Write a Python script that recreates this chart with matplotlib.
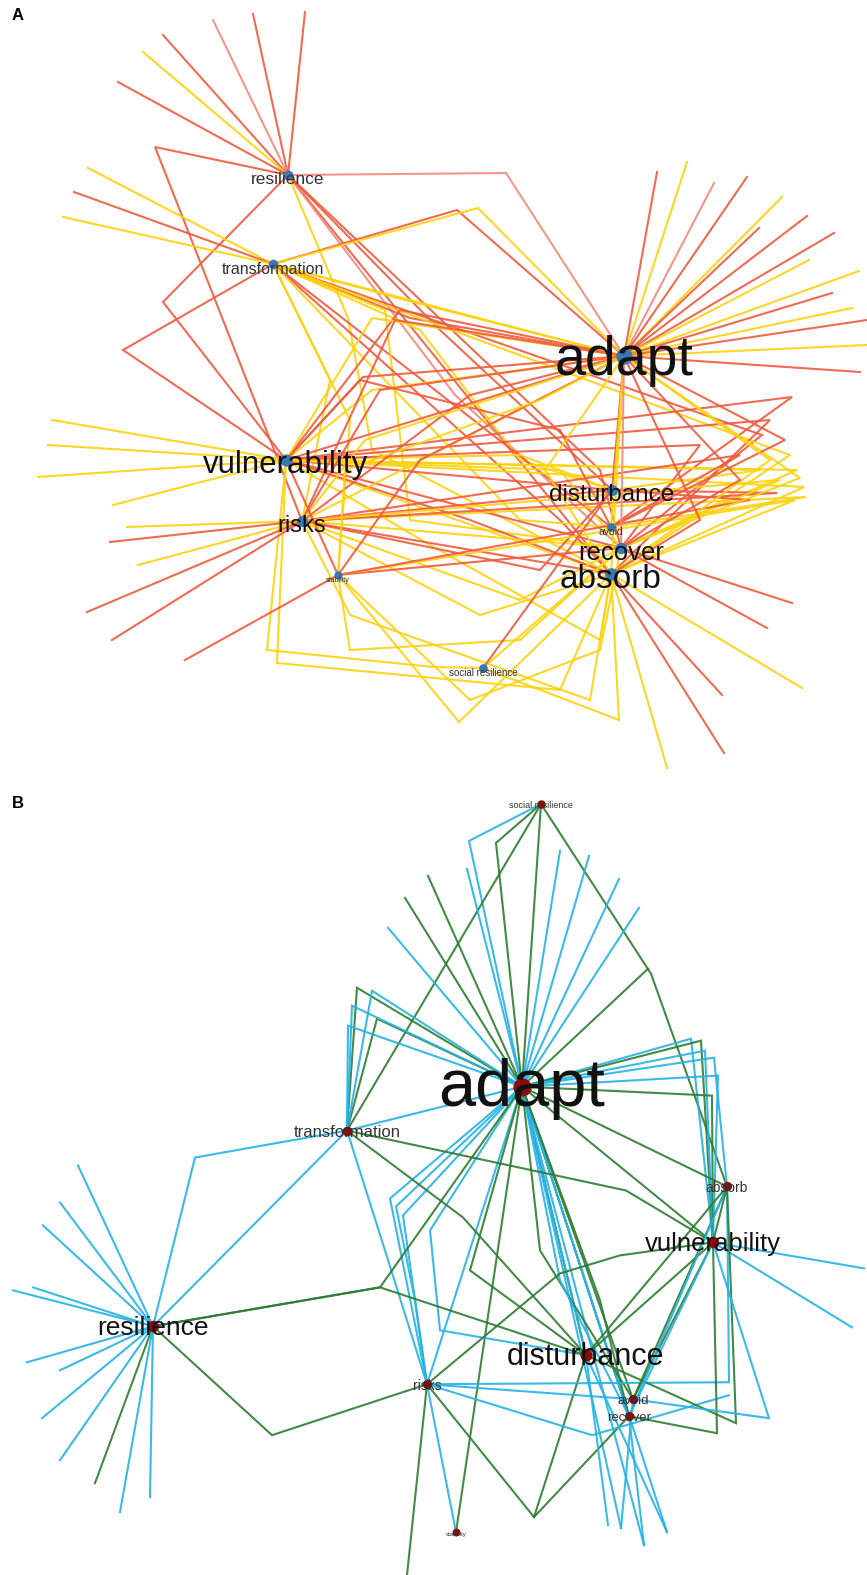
import matplotlib.pyplot as plt

# ---------------- panel A : keyword network (red / yellow links) ----------------
a_names  = ['resilience', 'transformation', 'adapt', 'vulnerability', 'risks', 'stability',
            'disturbance', 'avoid', 'recover', 'absorb', 'social resilience']
a_x      = [288, 273, 624, 286, 302, 338, 612, 611, 621, 611, 483]
a_y      = [175, 264, 356, 460, 521, 575, 490, 527, 548, 574, 668]
a_weight = [12.5, 11.5, 40, 22.5, 17, 5, 17.5, 7.5, 18.5, 24, 7]

a_edges = [
    # resilience
    ('r', ['resilience', (305, 12)]), ('r', ['resilience', (253, 14)]),
    ('p', ['resilience', (213, 20)]), ('r', ['resilience', (163, 35)]),
    ('y', ['resilience', (143, 52)]), ('r', ['resilience', (118, 82)]),
    ('p', ['resilience', (506, 173), 'adapt']),
    ('r', ['resilience', (155, 147), 'risks']),
    ('r', ['resilience', (163, 302), 'vulnerability']),
    ('r', ['resilience', 'absorb']),
    ('p', ['resilience', (455, 395), 'recover']),
    ('y', ['resilience', (348, 318), (372, 450), 'absorb']),
    ('r', ['resilience', (440, 330), 'disturbance']),
    ('r', ['resilience', (600, 470), 'recover']),
    # transformation
    ('y', ['transformation', (88, 168)]), ('r', ['transformation', (74, 192)]),
    ('y', ['transformation', (63, 217)]),
    ('r', ['transformation', (123, 350), 'vulnerability']),
    ('r', ['transformation', (457, 210), 'adapt']),
    ('y', ['transformation', (478, 208), 'adapt']),
    ('y', ['transformation', (440, 308), 'adapt']),
    ('y', ['transformation', (405, 300), 'adapt']),
    ('r', ['transformation', (410, 318), 'adapt']),
    ('y', ['transformation', (420, 330), (520, 460), 'disturbance']),
    ('r', ['transformation', 'avoid']),
    ('y', ['transformation', (385, 310), (410, 520), 'recover']),
    ('r', ['transformation', (762, 435), 'recover']),
    ('y', ['transformation', (790, 455), 'absorb']),
    ('y', ['transformation', (330, 380), 'risks']),
    ('r', ['transformation', (560, 520), 'absorb']),
    ('y', ['transformation', (520, 520), 'avoid']),
    ('y', ['transformation', (350, 420), 'stability']),
    # vulnerability
    ('y', ['vulnerability', (52, 420)]), ('y', ['vulnerability', (48, 445)]),
    ('y', ['vulnerability', (38, 477)]), ('y', ['vulnerability', (113, 505)]),
    ('r', ['vulnerability', 'adapt']),
    ('r', ['vulnerability', (363, 377), 'adapt']),
    ('y', ['vulnerability', (372, 390), 'adapt']),
    ('r', ['vulnerability', (400, 310), 'adapt']),
    ('y', ['vulnerability', (372, 318), 'adapt']),
    ('y', ['vulnerability', (520, 455), 'disturbance']),
    ('r', ['vulnerability', 'disturbance']),
    ('r', ['vulnerability', 'recover']),
    ('y', ['vulnerability', 'absorb']),
    ('r', ['vulnerability', (792, 397), 'avoid']),
    ('y', ['vulnerability', (797, 470), 'recover']),
    ('y', ['vulnerability', (804, 487), 'absorb']),
    ('r', ['vulnerability', (770, 420), 'absorb']),
    ('y', ['vulnerability', (267, 650), (433, 667), 'social resilience']),
    ('y', ['vulnerability', (277, 663), (560, 690), 'absorb']),
    ('r', ['vulnerability', (360, 380), (560, 430), 'avoid']),
    ('r', ['vulnerability', (700, 445), 'recover']),
    ('y', ['vulnerability', (760, 470), 'disturbance']),
    ('y', ['vulnerability', (560, 470), 'recover']),
    ('r', ['vulnerability', (470, 520), 'absorb']),
    ('y', ['vulnerability', (430, 545), (600, 640), 'absorb']),
    # risks
    ('y', ['risks', (127, 527)]), ('r', ['risks', (110, 542)]),
    ('y', ['risks', (138, 565)]), ('r', ['risks', (87, 612)]),
    ('r', ['risks', (112, 640)]),
    ('r', ['risks', (395, 320), 'adapt']),
    ('y', ['risks', 'adapt']),
    ('r', ['risks', (470, 395), 'adapt']),
    ('r', ['risks', (380, 390), 'adapt']),
    ('y', ['risks', (365, 440), 'adapt']),
    ('r', ['risks', 'disturbance']),
    ('y', ['risks', 'recover']),
    ('r', ['risks', 'absorb']),
    ('y', ['risks', (480, 615), 'absorb']),
    ('y', ['risks', (806, 497), 'avoid']),
    ('r', ['risks', (777, 493), 'disturbance']),
    ('r', ['risks', (740, 455), 'avoid']),
    ('y', ['risks', (780, 480), 'recover']),
    ('r', ['risks', (540, 570), 'disturbance']),
    ('y', ['risks', (520, 600), 'recover']),
    ('y', ['risks', (350, 615), (590, 700), 'absorb']),
    # stability
    ('r', ['stability', (185, 660)]),
    ('r', ['stability', 'recover']),
    ('y', ['stability', (459, 722), 'absorb']),
    ('y', ['stability', (470, 700), (600, 650), 'recover']),
    ('r', ['stability', 'vulnerability']),
    ('r', ['stability', (420, 460), 'adapt']),
    ('y', ['stability', (345, 470), (540, 400), 'adapt']),
    ('y', ['stability', (795, 500), 'absorb']),
    ('r', ['stability', (750, 500), 'disturbance']),
    ('y', ['stability', (350, 650), (520, 640), 'recover']),
    # adapt
    ('r', ['adapt', (657, 172)]), ('y', ['adapt', (687, 162)]),
    ('p', ['adapt', (714, 183)]), ('r', ['adapt', (747, 177)]),
    ('y', ['adapt', (782, 197)]), ('r', ['adapt', (759, 228)]),
    ('r', ['adapt', (807, 216)]), ('r', ['adapt', (834, 233)]),
    ('y', ['adapt', (809, 260)]), ('y', ['adapt', (859, 271)]),
    ('r', ['adapt', (832, 293)]), ('y', ['adapt', (852, 308)]),
    ('r', ['adapt', (867, 320)]), ('y', ['adapt', (867, 345)]),
    ('r', ['adapt', (860, 372)]),
    ('y', ['adapt', (800, 478), 'recover']),
    ('r', ['adapt', (785, 440), 'avoid']),
    ('y', ['adapt', (770, 460), 'absorb']),
    ('r', ['adapt', (740, 480), 'recover']),
    ('r', ['adapt', 'disturbance']), ('y', ['adapt', 'avoid']),
    ('y', ['adapt', 'absorb']), ('p', ['adapt', 'recover']),
    ('y', ['adapt', (545, 470), 'absorb']),
    ('r', ['adapt', (700, 520), 'absorb']),
    # lower cluster
    ('y', ['absorb', (667, 768)]), ('r', ['absorb', (724, 753)]),
    ('r', ['absorb', (722, 695)]), ('y', ['absorb', (802, 688)]),
    ('r', ['recover', (767, 628)]), ('r', ['recover', (792, 603)]),
    ('y', ['social resilience', (619, 720), 'absorb']),
    ('y', ['social resilience', 'recover']),
    ('r', ['social resilience', 'disturbance']),
]

# ---------------- panel B : keyword network (blue / green links) ----------------
b_names  = ['social resilience', 'adapt', 'transformation', 'resilience', 'absorb',
            'vulnerability', 'disturbance', 'risks', 'avoid', 'recover', 'stability']
b_x      = [541, 522, 347, 153, 727, 713, 586, 427, 633, 629, 456]
b_y      = [803, 1086, 1130, 1326, 1186, 1242, 1355, 1384, 1399, 1416, 1532]
b_weight = [6.5, 48, 12, 19, 10, 18.5, 22, 10, 9.5, 9.5, 4.5]

b_edges = [
    # social resilience
    ('g', ['social resilience', 'adapt']),
    ('b', ['social resilience', (469, 840), 'adapt']),
    ('g', ['social resilience', (496, 842), 'adapt']),
    ('g', ['social resilience', (651, 973), 'absorb']),
    ('g', ['adapt', (648, 968)]),
    ('g', ['social resilience', 'transformation']),
    # adapt, upper fan
    ('b', ['adapt', (589, 855)]), ('b', ['adapt', (619, 878)]),
    ('b', ['adapt', (639, 907)]), ('b', ['adapt', (467, 868)]),
    ('g', ['adapt', (428, 875)]), ('g', ['adapt', (405, 897)]),
    ('b', ['adapt', (388, 927)]), ('b', ['adapt', (560, 850)]),
    ('g', ['transformation', (357, 987), 'adapt']),
    ('g', ['transformation', (377, 1018), 'adapt']),
    ('b', ['transformation', (372, 990), 'adapt']),
    ('b', ['transformation', (348, 1025), 'adapt']),
    ('b', ['transformation', (352, 1005), 'adapt']),
    ('b', ['transformation', 'adapt']),
    # adapt, right side
    ('b', ['adapt', (691, 1038), 'vulnerability']),
    ('g', ['adapt', (701, 1040), 'vulnerability']),
    ('b', ['adapt', (714, 1057), 'absorb']),
    ('b', ['adapt', (705, 1050), 'vulnerability']),
    ('g', ['adapt', (712, 1095), 'vulnerability']),
    ('b', ['adapt', (718, 1075), 'vulnerability']),
    # adapt, lower fan
    ('g', ['adapt', 'disturbance']), ('g', ['adapt', 'avoid']),
    ('g', ['adapt', 'recover']), ('b', ['adapt', 'recover']),
    ('g', ['adapt', 'vulnerability']), ('g', ['adapt', 'absorb']),
    ('b', ['adapt', 'risks']), ('b', ['adapt', 'disturbance']),
    ('g', ['stability', 'adapt']),
    ('b', ['adapt', (621, 1528)]), ('b', ['adapt', (644, 1545)]),
    ('b', ['adapt', (667, 1532)]), ('g', ['adapt', (600, 1300), 'recover']),
    ('b', ['adapt', (390, 1198), 'risks']),
    ('b', ['adapt', (396, 1206), (415, 1300), 'risks']),
    ('b', ['adapt', (403, 1215), 'risks']),
    ('b', ['adapt', (430, 1230), (440, 1330), 'disturbance']),
    ('g', ['adapt', (540, 1250), 'avoid']),
    ('b', ['adapt', (560, 1280), 'recover']),
    ('g', ['adapt', (470, 1270), 'disturbance']),
    # transformation
    ('b', ['transformation', (385, 1250), 'risks']),
    ('g', ['transformation', (463, 1217), 'disturbance']),
    ('b', ['transformation', (195, 1157), 'resilience']),
    ('b', ['transformation', 'resilience']),
    ('g', ['transformation', (626, 1190), 'vulnerability']),
    # resilience
    ('b', ['resilience', (78, 1165)]), ('b', ['resilience', (60, 1202)]),
    ('b', ['resilience', (43, 1225)]), ('b', ['resilience', (13, 1290)]),
    ('b', ['resilience', (33, 1287)]), ('b', ['resilience', (27, 1362)]),
    ('b', ['resilience', (60, 1370)]), ('b', ['resilience', (42, 1418)]),
    ('b', ['resilience', (60, 1460)]), ('g', ['resilience', (95, 1483)]),
    ('b', ['resilience', (120, 1512)]), ('b', ['resilience', (150, 1497)]),
    ('g', ['resilience', (380, 1287), 'adapt']),
    ('g', ['resilience', (380, 1287), 'disturbance']),
    ('g', ['resilience', (272, 1435), 'risks']),
    # risks / lower cluster
    ('g', ['risks', (407, 1575)]),
    ('b', ['risks', 'stability']),
    ('g', ['risks', (534, 1517), 'recover']),
    ('g', ['disturbance', (534, 1517)]),
    ('b', ['risks', (592, 1435), (729, 1395)]),
    ('b', ['risks', (729, 1382), 'absorb']),
    ('b', ['risks', 'avoid']),
    ('b', ['avoid', (621, 1528)]), ('b', ['recover', (644, 1545)]),
    ('b', ['disturbance', (667, 1532)]), ('b', ['disturbance', (608, 1525)]),
    # vulnerability / absorb
    ('b', ['vulnerability', (864, 1268)]), ('b', ['vulnerability', (852, 1327)]),
    ('g', ['vulnerability', (717, 1433), 'recover']),
    ('g', ['absorb', (736, 1423), 'disturbance']),
    ('b', ['vulnerability', (769, 1418), 'avoid']),
    ('g', ['vulnerability', 'disturbance']),
    ('g', ['absorb', 'disturbance']),
    ('g', ['absorb', 'avoid']),
    ('g', ['vulnerability', 'avoid']),
    ('b', ['vulnerability', 'recover']),
    ('b', ['absorb', 'recover']),
    ('g', ['vulnerability', (620, 1255), (560, 1273), 'risks']),
    ('g', ['absorb', 'vulnerability']),
]

a_colors = {'r': '#ef5b3f', 'p': '#f28a7a', 'y': '#fdd20e'}
b_colors = {'b': '#25b2e6', 'g': '#2e7d32'}


def draw_network(ax, names, xs, ys, weights, edges, colors, node_color, label_dy):
    pos = {n: (x, y) for n, x, y in zip(names, xs, ys)}

    for ckey, path in edges:
        pts = [pos[p] if isinstance(p, str) else p for p in path]
        ax.plot([p[0] for p in pts], [p[1] for p in pts], color=colors[ckey],
                lw=1.5, alpha=0.9, solid_joinstyle='miter', zorder=1)

    for n, x, y, w in zip(names, xs, ys, weights):
        ax.plot(x, y, 'o', ms=5 + w * 0.17, color=node_color, mec='none', zorder=2)
        tc = '#111111' if w >= 15 else '#333333'
        ax.text(x, y + label_dy, n, fontsize=w, color=tc, ha='center', va='center',
                family=['Liberation Sans', 'DejaVu Sans'], zorder=3)


fig = plt.figure(figsize=(8.67, 15.75), dpi=100)
split = 787 / 1575

ax_a = fig.add_axes([0, 1 - split, 1, split])
ax_a.set_xlim(0, 867)
ax_a.set_ylim(787, 0)
ax_a.axis('off')
draw_network(ax_a, a_names, a_x, a_y, a_weight, a_edges, a_colors, '#3a78b5', 5)

ax_b = fig.add_axes([0, 0, 1, split])
ax_b.set_xlim(0, 867)
ax_b.set_ylim(1575, 787)
ax_b.axis('off')
draw_network(ax_b, b_names, b_x, b_y, b_weight, b_edges, b_colors, '#8b0a0a', 2)

fig.text(12 / 867, 1 - 16 / 1575, 'A', fontsize=12, fontweight='bold',
         family='Liberation Sans', va='center', ha='left')
fig.text(12 / 867, 1 - 803 / 1575, 'B', fontsize=12, fontweight='bold',
         family='Liberation Sans', va='center', ha='left')

fig.savefig('out.png', dpi=100)
